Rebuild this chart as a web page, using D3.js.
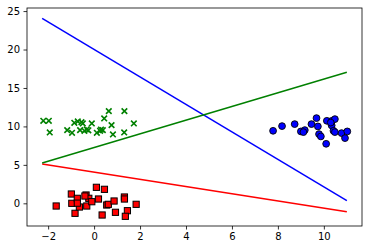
<!DOCTYPE html>
<html>
<head>
<meta charset="utf-8">
<script src="https://cdn.jsdelivr.net/npm/d3@7"></script>
<style>
html,body{margin:0;padding:0;background:#fff;}
svg{display:block;}
</style>
</head>
<body>
<svg id="chart" width="368" height="250"></svg>
<script>
// Red squares (class 0)
const redX = [-1.65,-0.99,-0.97,-0.83,-0.73,-0.64,-0.35,-0.23,-0.32,-0.10,0.10,0.19,0.45,0.35,0.55,0.62,0.87,0.93,1.32,1.32,1.45,1.36,1.83,-0.73,-0.40];
const redY = [-0.35,1.21,0.00,-1.30,0.65,-0.48,1.08,0.65,-0.35,0.21,2.08,0.56,1.82,-1.52,-0.22,-0.13,0.30,-1.17,0.82,0.56,-0.96,-1.69,-0.13,0.02,0.95];
// Green crosses (class 1)
const greenX = [-2.21,-1.97,-1.93,-1.17,-0.96,-0.86,-0.71,-0.61,-0.49,-0.42,-0.32,-0.10,0.12,0.26,0.38,0.44,0.64,0.76,0.82,1.32,1.31,1.73,-0.25,-0.55,0.30];
const greenY = [10.73,10.73,9.22,9.52,9.17,10.47,10.65,9.52,10.39,9.43,9.61,10.39,9.17,9.43,9.52,11.04,11.99,10.17,8.96,11.99,9.22,10.39,9.50,10.55,9.60];
// Blue circles (class 2)
const blueX = [7.79,8.18,8.73,9.00,9.17,9.11,9.46,9.68,9.74,9.79,9.87,10.13,10.35,10.48,10.34,10.42,10.48,10.77,10.92,11.02,10.10,10.30];
const blueY = [9.43,10.04,10.30,9.35,9.52,9.26,10.30,11.08,10.00,9.00,8.70,10.73,10.73,10.95,10.13,9.43,9.26,9.13,8.48,9.35,7.74,10.50];
// Decision lines: [x0, x1] and [y0, y1]
const lineX = [-2.26, 11.0];
const blueLineY = [24.05, 0.35];
const redLineY = [5.10, -1.10];
const greenLineY = [5.25, 17.05];
// Ticks
const xTicks = [-2,0,2,4,6,8,10];
const yTicks = [0,5,10,15,20,25];

const svg = d3.select("#chart");
const L = 27, R = 362, T = 8, B = 226;
const x = d3.scaleLinear().domain([-2.92, 11.66]).range([L, R]);
const y = d3.scaleLinear().domain([-2.95, 25.4]).range([B, T]);
const fmt = d => (d < 0 ? "\u2212" + Math.abs(d) : String(d));

const plot = svg.append("g");

// Lines
const lineGen = d3.line().x(d => x(d[0])).y(d => y(d[1]));
const lines = [
  {ys: blueLineY, c: "#0000ff"},
  {ys: redLineY, c: "#ff0000"},
  {ys: greenLineY, c: "#008000"}
];
lines.forEach(l => {
  plot.append("path")
    .attr("d", lineGen(lineX.map((xv, i) => [xv, l.ys[i]])))
    .attr("fill", "none").attr("stroke", l.c).attr("stroke-width", 1.5);
});

// Red squares
const s = 6.2;
plot.selectAll("rect.red").data(redX.map((v, i) => [v, redY[i]])).enter()
  .append("rect").attr("class", "red")
  .attr("x", d => x(d[0]) - s/2).attr("y", d => y(d[1]) - s/2)
  .attr("width", s).attr("height", s)
  .attr("fill", "#ff0000").attr("stroke", "#000").attr("stroke-width", 1);

// Green crosses
const h = 2.8;
plot.selectAll("path.green").data(greenX.map((v, i) => [v, greenY[i]])).enter()
  .append("path").attr("class", "green")
  .attr("d", d => {
    const cx = x(d[0]), cy = y(d[1]);
    return `M${cx-h},${cy-h}L${cx+h},${cy+h}M${cx-h},${cy+h}L${cx+h},${cy-h}`;
  })
  .attr("stroke", "#008000").attr("stroke-width", 1.6).attr("fill", "none");

// Blue circles
plot.selectAll("circle.blue").data(blueX.map((v, i) => [v, blueY[i]])).enter()
  .append("circle").attr("class", "blue")
  .attr("cx", d => x(d[0])).attr("cy", d => y(d[1])).attr("r", 3.4)
  .attr("fill", "#0000ff").attr("stroke", "#000").attr("stroke-width", 0.9);

// Axes
const xAxis = d3.axisBottom(x).tickValues(xTicks).tickFormat(fmt).tickSizeInner(3.5).tickSizeOuter(0).tickPadding(3.5);
const yAxis = d3.axisLeft(y).tickValues(yTicks).tickFormat(fmt).tickSizeInner(3.5).tickSizeOuter(0).tickPadding(3.5);
const gx = svg.append("g").attr("transform", `translate(0,${B})`).call(xAxis);
const gy = svg.append("g").attr("transform", `translate(${L},0)`).call(yAxis);
[gx, gy].forEach(g => {
  g.select(".domain").remove();
  g.selectAll(".tick line").attr("stroke", "#000").attr("stroke-width", 0.8);
  g.selectAll(".tick text").attr("fill", "#000").style("font-family", "'DejaVu Sans', sans-serif").style("font-size", "10px");
});

// Frame
svg.append("rect").attr("x", L).attr("y", T).attr("width", R - L).attr("height", B - T)
  .attr("fill", "none").attr("stroke", "#000").attr("stroke-width", 0.8);
</script>
</body>
</html>
